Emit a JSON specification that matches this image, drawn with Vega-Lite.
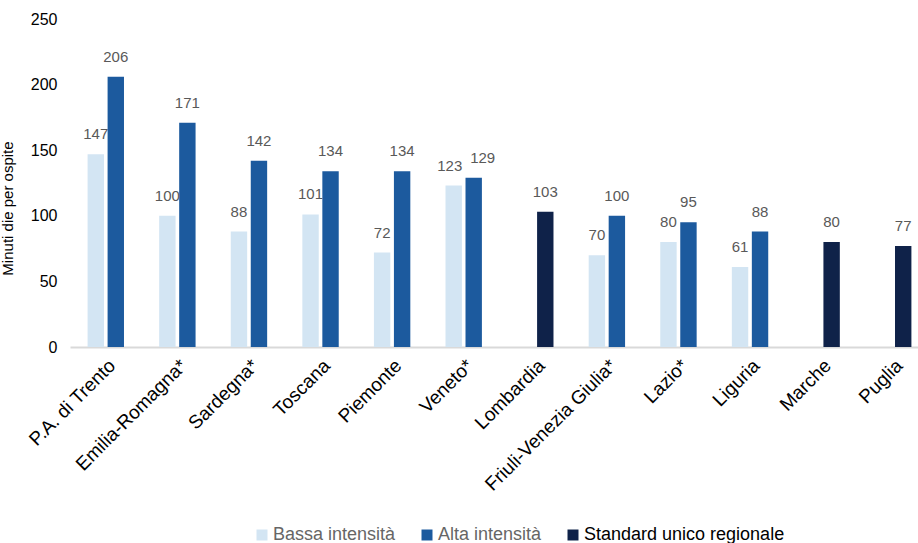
{
  "$schema": "https://vega.github.io/schema/vega-lite/v6.json",
  "autosize": {"type": "none"},
  "padding": {"left": 70, "top": 19, "right": 0, "bottom": 196},
  "width": 848,
  "height": 328,
  "background": "white",
  "config": {"view": {"stroke": null}, "font": "Liberation Sans"},
  "data": {"values": [
    {"region": "P.A. di Trento", "type": "Bassa intensità", "slot": "1", "value": 147},
    {"region": "P.A. di Trento", "type": "Alta intensità", "slot": "2", "value": 206},
    {"region": "Emilia-Romagna*", "type": "Bassa intensità", "slot": "1", "value": 100},
    {"region": "Emilia-Romagna*", "type": "Alta intensità", "slot": "2", "value": 171},
    {"region": "Sardegna*", "type": "Bassa intensità", "slot": "1", "value": 88},
    {"region": "Sardegna*", "type": "Alta intensità", "slot": "2", "value": 142},
    {"region": "Toscana", "type": "Bassa intensità", "slot": "1", "value": 101},
    {"region": "Toscana", "type": "Alta intensità", "slot": "2", "value": 134},
    {"region": "Piemonte", "type": "Bassa intensità", "slot": "1", "value": 72},
    {"region": "Piemonte", "type": "Alta intensità", "slot": "2", "value": 134},
    {"region": "Veneto*", "type": "Bassa intensità", "slot": "1", "value": 123},
    {"region": "Veneto*", "type": "Alta intensità", "slot": "2", "value": 129},
    {"region": "Lombardia", "type": "Standard unico regionale", "slot": "2", "value": 103},
    {"region": "Friuli-Venezia Giulia*", "type": "Bassa intensità", "slot": "1", "value": 70},
    {"region": "Friuli-Venezia Giulia*", "type": "Alta intensità", "slot": "2", "value": 100},
    {"region": "Lazio*", "type": "Bassa intensità", "slot": "1", "value": 80},
    {"region": "Lazio*", "type": "Alta intensità", "slot": "2", "value": 95},
    {"region": "Liguria", "type": "Bassa intensità", "slot": "1", "value": 61},
    {"region": "Liguria", "type": "Alta intensità", "slot": "2", "value": 88},
    {"region": "Marche", "type": "Standard unico regionale", "slot": "2", "value": 80},
    {"region": "Puglia", "type": "Standard unico regionale", "slot": "2", "value": 77}
  ]},
  "encoding": {
    "x": {
      "field": "region", "type": "nominal", "sort": null,
      "scale": {"range": [0, 859], "paddingInner": 0, "paddingOuter": 0},
      "axis": {
        "title": null, "labelAngle": -45, "labelFontSize": 19, "labelColor": "black",
        "labelPadding": 9, "ticks": false, "domainColor": "#d9d9d9", "domainWidth": 2,
        "labelLimit": 300
      }
    },
    "xOffset": {
      "field": "slot", "type": "nominal",
      "scale": {"domain": ["1", "2"], "paddingInner": 0.18, "paddingOuter": 0.88}
    },
    "y": {
      "field": "value", "type": "quantitative",
      "scale": {"domain": [0, 250]},
      "axis": {
        "title": "Minuti die per ospite", "titleFontSize": 15, "titleFontWeight": "normal",
        "titleColor": "black", "titleX": -55, "titleY": 189,
        "values": [0, 50, 100, 150, 200, 250], "labelFontSize": 16, "labelColor": "black",
        "labelPadding": 13, "ticks": false, "domain": false, "grid": false
      }
    }
  },
  "layer": [
    {
      "mark": {"type": "bar"},
      "encoding": {
        "color": {
          "field": "type", "type": "nominal",
          "scale": {
            "domain": ["Bassa intensità", "Alta intensità", "Standard unico regionale"],
            "range": ["#d3e5f3", "#1c5a9e", "#0f2249"]
          },
          "legend": {
            "title": null, "orient": "none", "direction": "horizontal",
            "legendX": 183, "legendY": 507,
            "symbolType": "square", "symbolSize": 121, "symbolStrokeWidth": 0,
            "labelFontSize": 18, "labelOffset": 2, "columnPadding": 22, "labelLimit": 400,
            "encode": {
              "labels": {"update": {"fill": [
                {"test": "datum.label === 'Standard unico regionale'", "value": "black"},
                {"value": "#666666"}
              ]}}
            }
          }
        }
      }
    },
    {
      "mark": {
        "type": "text", "baseline": "middle", "dy": -20, "fontSize": 15, "color": "#595959",
        "dx": {"expr": "datum.region === 'Veneto*' ? (datum.slot === '1' ? -4 : 9) : 0"}
      },
      "encoding": {"text": {"field": "value", "type": "quantitative"}}
    }
  ]
}
